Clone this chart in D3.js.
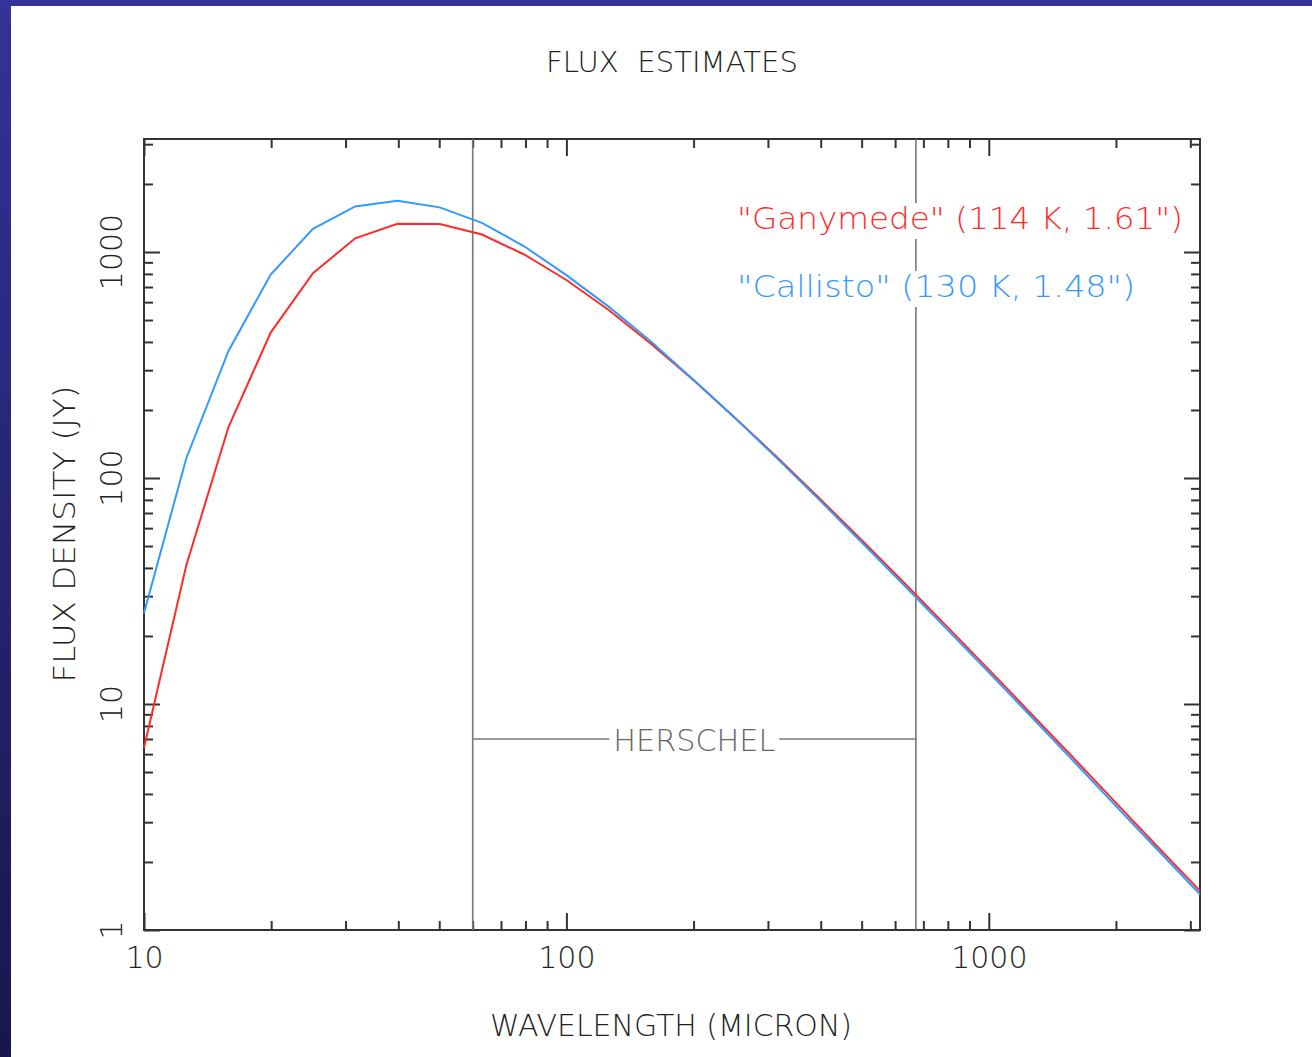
<!DOCTYPE html>
<html><head><meta charset="utf-8">
<script src="https://cdn.jsdelivr.net/npm/d3@7"></script>
<style>
html,body{margin:0;padding:0;overflow:hidden;}
svg{display:block;}
text{font-family:"DejaVu Sans","Liberation Sans",sans-serif;font-weight:200;}
</style></head><body>
<svg id="c" width="1312" height="1057"></svg>
<script>
// ---- data ----
const wavelengths = [10, 12.59, 15.85, 19.95, 25.12, 31.62, 39.81, 50.12, 63.1, 79.43, 100, 125.9, 158.5, 199.5, 251.2, 316.2, 398.1, 501.2, 631, 794.3, 1000, 1259, 1585, 1995, 2512, 3162];
const ganymede = [6.4, 41, 168, 440, 805, 1150, 1332, 1330, 1195, 975, 752, 554, 393, 272, 184, 123, 81, 52.9, 34.3, 22.1, 14.2, 9.06, 5.78, 3.67, 2.33, 1.49];
const callisto = [25.3, 122, 365, 795, 1265, 1590, 1687, 1576, 1345, 1060, 790, 573, 402, 273, 184, 121.5, 79.6, 51.7, 33.4, 21.5, 13.8, 8.8, 5.6, 3.55, 2.26, 1.44];
const seriesNames = ['"Ganymede" (114 K, 1.61")', '"Callisto" (130 K, 1.48")'];
const xMajorTicks = [10, 100, 1000];
const xMinorTicks = [20,30,40,50,60,70,80,90,200,300,400,500,600,700,800,900,2000,3000];
const yMajorTicks = [1, 10, 100, 1000];
const yMinorTicks = [2,3,4,5,6,7,8,9,20,30,40,50,60,70,80,90,200,300,400,500,600,700,800,900,2000,3000];
const herschelRange = [60, 672];
const herschelLevel = 7;
const herschelLabel = "HERSCHEL";

// ---- layout ----
const W = 1312, H = 1057;
const L = 144, R = 1200, T = 139, B = 930;
const svg = d3.select("#c");

const defs = svg.append("defs");
const grad = defs.append("linearGradient").attr("id","bg").attr("x1",0).attr("y1",0).attr("x2",0).attr("y2",1);
grad.append("stop").attr("offset","0%").attr("stop-color","#333399");
grad.append("stop").attr("offset","100%").attr("stop-color","#17174d");
svg.append("rect").attr("width",W).attr("height",H).attr("fill","url(#bg)");
svg.append("rect").attr("x",11).attr("y",6).attr("width",W-11).attr("height",H-6).attr("fill","#fff");

const x = d3.scaleLog().domain([10, Math.pow(10,3.5)]).range([L, R]);
const y = d3.scaleLog().domain([1, Math.pow(10,3.5)]).range([B, T]);

const axisColor = "#333";
function styleAxis(g){
  g.select(".domain").remove();
  g.selectAll(".tick line").attr("stroke",axisColor).attr("stroke-width",2);
}
// bottom
svg.append("g").attr("transform",`translate(0,${B})`)
  .call(d3.axisBottom(x).tickValues(xMinorTicks).tickSize(-9).tickFormat("")).call(styleAxis);
svg.append("g").attr("transform",`translate(0,${B})`)
  .call(d3.axisBottom(x).tickValues(xMajorTicks).tickSize(-17).tickPadding(17).tickFormat(d3.format("d")))
  .call(styleAxis)
  .call(g=>g.selectAll("text").attr("fill","#222").attr("font-size",30).style("font-family",'"DejaVu Sans",sans-serif').style("font-weight",200));
// top
svg.append("g").attr("transform",`translate(0,${T})`)
  .call(d3.axisTop(x).tickValues(xMinorTicks).tickSize(-9).tickFormat("")).call(styleAxis);
svg.append("g").attr("transform",`translate(0,${T})`)
  .call(d3.axisTop(x).tickValues(xMajorTicks).tickSize(-17).tickFormat("")).call(styleAxis);
// left
svg.append("g").attr("transform",`translate(${L},0)`)
  .call(d3.axisLeft(y).tickValues(yMinorTicks).tickSize(-9).tickFormat("")).call(styleAxis);
svg.append("g").attr("transform",`translate(${L},0)`)
  .call(d3.axisLeft(y).tickValues(yMajorTicks).tickSize(-16).tickFormat("")).call(styleAxis);
// right
svg.append("g").attr("transform",`translate(${R},0)`)
  .call(d3.axisRight(y).tickValues(yMinorTicks).tickSize(-9).tickFormat("")).call(styleAxis);
svg.append("g").attr("transform",`translate(${R},0)`)
  .call(d3.axisRight(y).tickValues(yMajorTicks).tickSize(-16).tickFormat("")).call(styleAxis);

// y tick labels (rotated)
svg.append("g").selectAll("text").data(yMajorTicks).join("text")
  .attr("transform",d=>`translate(122,${y(d)}) rotate(-90)`)
  .attr("text-anchor","middle").attr("font-size",30).attr("fill","#222")
  .text(d=>d3.format("d")(d));

// frame
svg.append("rect").attr("x",L).attr("y",T).attr("width",R-L).attr("height",B-T)
  .attr("fill","none").attr("stroke",axisColor).attr("stroke-width",2);

// Herschel markers
const hc = "#777";
herschelRange.forEach(v=>{
  svg.append("line").attr("x1",x(v)).attr("x2",x(v)).attr("y1",T).attr("y2",B)
    .attr("stroke",hc).attr("stroke-width",1.6);
});
const hx0 = x(herschelRange[0]), hx1 = x(herschelRange[1]), hy = y(herschelLevel);
const hmid = (hx0+hx1)/2, hw = 162;
svg.append("line").attr("x1",hx0).attr("x2",hmid-hw/2-4).attr("y1",hy).attr("y2",hy).attr("stroke",hc).attr("stroke-width",1.6);
svg.append("line").attr("x1",hmid+hw/2+4).attr("x2",hx1).attr("y1",hy).attr("y2",hy).attr("stroke",hc).attr("stroke-width",1.6);
svg.append("text").attr("x",hmid).attr("y",hy+12).attr("text-anchor","middle")
  .attr("font-size",31).attr("fill","#666").attr("textLength",hw).attr("lengthAdjust","spacingAndGlyphs")
  .text(herschelLabel);

// curves
const line = d3.line().x(d=>x(d[0])).y(d=>y(d[1]));
const colors = ["#ff2a2a","#3399ff"];
[ganymede, callisto].forEach((vals,i)=>{
  svg.append("path").datum(wavelengths.map((w,j)=>[w,vals[j]]))
    .attr("d",line).attr("fill","none").attr("stroke",colors[i]).attr("stroke-width",2);
});

// legend
const legY = [229, 297], legW = [446, 398];
seriesNames.forEach((s,i)=>{
  svg.append("rect").attr("x",737).attr("y",legY[i]-26).attr("width",legW[i]).attr("height",36).attr("fill","#fff");
  svg.append("text").attr("x",737).attr("y",legY[i]).attr("font-size",31).attr("fill",colors[i])
    .attr("textLength",legW[i]).attr("lengthAdjust","spacingAndGlyphs").text(s);
});

// titles
svg.append("text").attr("x",672).attr("y",72).attr("text-anchor","middle").attr("font-size",29).attr("fill","#222")
  .attr("textLength",252).attr("lengthAdjust","spacingAndGlyphs").attr("xml:space","preserve").text("FLUX  ESTIMATES");
svg.append("text").attr("x",671).attr("y",1036).attr("text-anchor","middle").attr("font-size",31).attr("fill","#222")
  .attr("textLength",362).attr("lengthAdjust","spacingAndGlyphs").text("WAVELENGTH (MICRON)");
svg.append("text").attr("transform","translate(75,534) rotate(-90)").attr("text-anchor","middle").attr("font-size",31).attr("fill","#222")
  .attr("textLength",297).attr("lengthAdjust","spacingAndGlyphs").text("FLUX DENSITY (JY)");
</script>
</body></html>
